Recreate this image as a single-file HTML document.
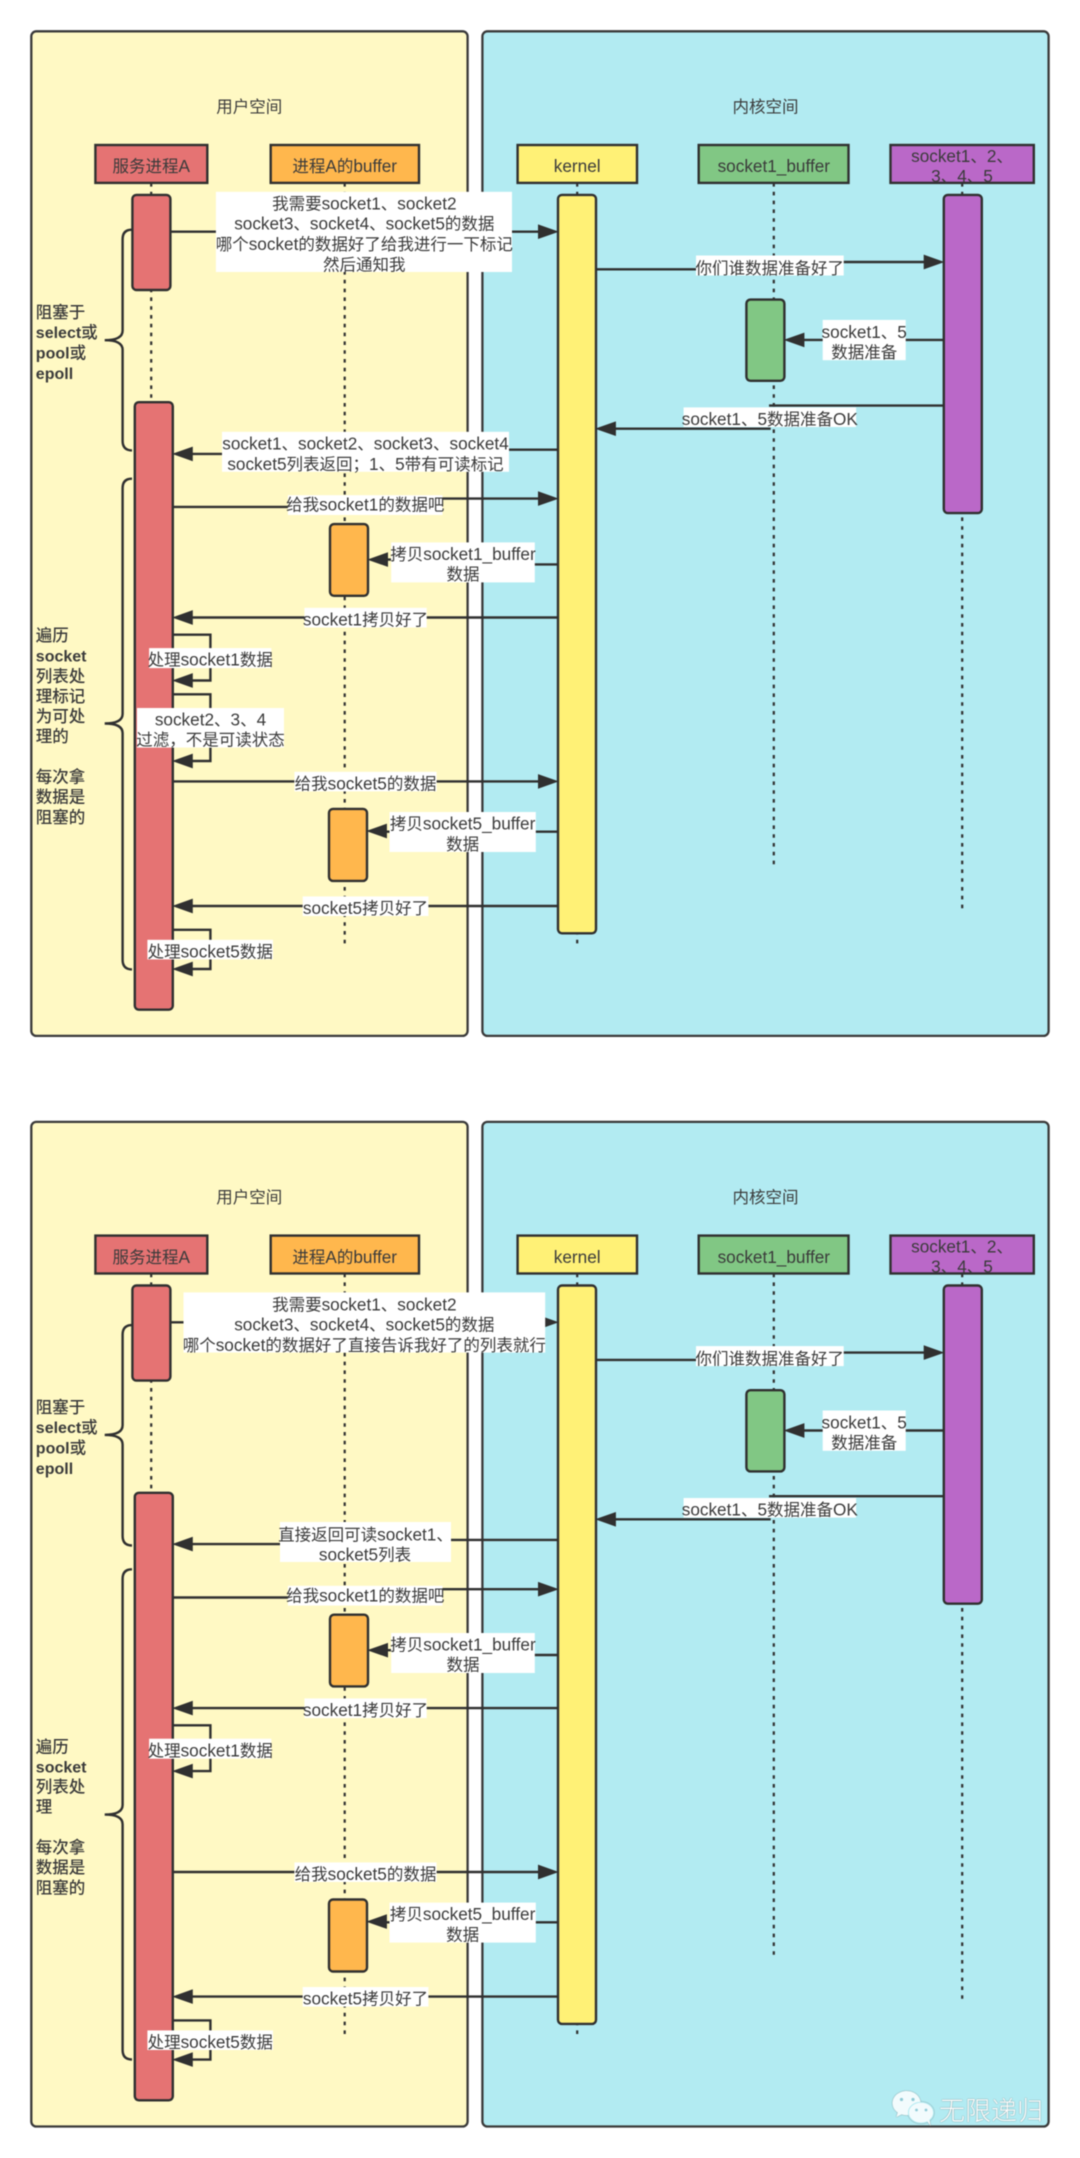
<!DOCTYPE html>
<html><head><meta charset="utf-8"><style>
html,body{margin:0;padding:0;background:#fff}
svg{display:block;filter:blur(.45px)}
text{font-family:"Liberation Sans","Noto Sans CJK SC",sans-serif;font-size:16.5px;fill:#3b3b3b}
.m{text-anchor:middle}
.l{font-size:17.2px}
.b{font-weight:500}
.b .l{font-size:16px;font-weight:700}
.p{stroke:#3a3a3a;stroke-width:2.3}
.a{stroke:#303030;stroke-width:2.4}
.d{stroke:#303030;stroke-width:2.2;stroke-dasharray:3.6 5.2;fill:none}
.ln{stroke:#303030;stroke-width:2.4;fill:none}
.h{fill:#303030;stroke:#303030;stroke-width:.6}
.w{fill:#fff}
</style></head><body>
<svg width="1080" height="2158" viewBox="0 0 1080 2158" xmlns="http://www.w3.org/2000/svg">
<rect width="1080" height="2158" fill="#fff"/>

<!-- ===== TOP DIAGRAM ===== -->
<g>
<rect class="p" x="31.3" y="31.3" width="436.3" height="1004.6" rx="5" fill="#FFF9C4"/>
<rect class="p" x="482.4" y="31.3" width="566.2" height="1004.6" rx="5" fill="#B2EBF2"/>
<text class="m" x="249.3" y="112.3">用户空间</text>
<text class="m" x="765.5" y="112.3">内核空间</text>

<path class="d" d="M151.2 183V403"/>
<path class="d" d="M344.7 183V945"/>
<path class="d" d="M577.2 183V945"/>
<path class="d" d="M773.8 183V866"/>
<path class="d" d="M962.2 183V910"/>

<path class="ln" d="M132 229.7Q122.6 229.7 122.6 239.3V330.6Q122.6 340.2 104.7 340.2Q122.6 340.2 122.6 349.8V440.8Q122.6 450.4 132 450.4"/>
<path class="ln" d="M132 478.7Q122.6 478.7 122.6 488.3V713.9Q122.6 723.5 104.7 723.5Q122.6 723.5 122.6 733.1V959.8Q122.6 969.4 132 969.4"/>

<rect class="a" x="95.4" y="145" width="111.9" height="37.9" fill="#E57373"/>
<rect class="a" x="270.7" y="145" width="148.3" height="37.9" fill="#FFB74D"/>
<rect class="a" x="517.6" y="145" width="119.4" height="37.9" fill="#FFF176"/>
<rect class="a" x="698.7" y="145" width="149.8" height="37.9" fill="#81C784"/>
<rect class="a" x="890.5" y="145" width="143.3" height="37.9" fill="#BA68C8"/>
<text class="m" x="151.2" y="172.2">服务进程<tspan class="l">A</tspan></text>
<text class="m" x="344.7" y="172.2">进程<tspan class="l">A</tspan>的<tspan class="l">buffer</tspan></text>
<text class="m" x="577.2" y="172.2"><tspan class="l">kernel</tspan></text>
<text class="m" x="773.8" y="172.2"><tspan class="l">socket1_buffer</tspan></text>
<text class="m" x="962" y="161.8"><tspan class="l">socket1</tspan>、<tspan class="l">2</tspan>、</text>
<text class="m" x="962" y="182.1"><tspan class="l">3</tspan>、<tspan class="l">4</tspan>、<tspan class="l">5</tspan></text>

<rect class="a" x="132.4" y="194.9" width="38" height="95.1" rx="4" fill="#E57373"/>
<rect class="a" x="134.8" y="402.2" width="38" height="607.5" rx="4" fill="#E57373"/>
<rect class="a" x="558" y="194.9" width="38" height="738.4" rx="4" fill="#FFF176"/>
<rect class="a" x="943.8" y="194.9" width="38" height="318.2" rx="4" fill="#BA68C8"/>
<rect class="a" x="746.4" y="299.6" width="38" height="81.2" rx="4" fill="#81C784"/>
<rect class="a" x="330" y="524.1" width="38" height="71.7" rx="4" fill="#FFB74D"/>
<rect class="a" x="329" y="808.9" width="38" height="72" rx="4" fill="#FFB74D"/>

<path class="ln" d="M170.5 231.7H540"/><polygon class="h" points="557.9,231.7 538.3,224.8 538.3,238.6"/>
<path class="ln" d="M596 269.3H696M843 262H925"/><polygon class="h" points="943.6,262 924,255.1 924,268.9"/>
<path class="ln" d="M943.6 339.9H803"/><polygon class="h" points="784.5,339.9 804.1,333 804.1,346.8"/>
<path class="ln" d="M943.6 405.6H769M770.7 428.7H614"/><polygon class="h" points="596,428.7 615.6,421.8 615.6,435.6"/>
<path class="ln" d="M557.9 449.7H505M222 453.9H190"/><polygon class="h" points="172.9,453.9 192.5,447 192.5,460.8"/>
<path class="ln" d="M172.9 506.9H290M440 498.6H540"/><polygon class="h" points="557.9,498.6 538.3,491.7 538.3,505.5"/>
<path class="ln" d="M557.9 564.4H530M391 559.6H386"/><polygon class="h" points="368.1,559.6 387.7,552.7 387.7,566.5"/>
<path class="ln" d="M557.9 617.5H190"/><polygon class="h" points="172.9,617.5 192.5,610.6 192.5,624.4"/>
<path class="ln" d="M172.9 634.7H210.4V680.5H190"/><polygon class="h" points="172.9,680.5 192.5,673.6 192.5,687.4"/>
<path class="ln" d="M172.9 694.3H210.4V761H190"/><polygon class="h" points="172.9,761 192.5,754.1 192.5,767.9"/>
<path class="ln" d="M172.9 781.4H540"/><polygon class="h" points="557.9,781.4 538.3,774.5 538.3,788.3"/>
<path class="ln" d="M557.9 831.7H385"/><polygon class="h" points="367,831 386.6,824.1 386.6,837.9"/>
<path class="ln" d="M557.9 906H190"/><polygon class="h" points="172.9,906 192.5,899.1 192.5,912.9"/>
<path class="ln" d="M172.9 929.8H210.4V969H190"/><polygon class="h" points="172.9,969 192.5,962.1 192.5,975.9"/>

<rect class="w" x="215.9" y="191.8" width="296.1" height="80.2"/>
<rect class="w" x="696" y="255.5" width="147.7" height="20"/>
<rect class="w" x="822.7" y="319.9" width="83" height="40.3"/>
<rect class="w" x="683.6" y="407.4" width="172.5" height="19.6"/>
<rect class="w" x="222" y="431.8" width="287" height="40"/>
<rect class="w" x="287.9" y="495.2" width="154.6" height="19.8"/>
<rect class="w" x="391.2" y="542.4" width="143.6" height="40"/>
<rect class="w" x="304.4" y="607.8" width="122.3" height="19.7"/>
<rect class="w" x="149.1" y="648.1" width="122.2" height="20"/>
<rect class="w" x="137" y="708" width="147" height="39.6"/>
<rect class="w" x="294.4" y="771.8" width="142.2" height="19.6"/>
<rect class="w" x="389.5" y="812" width="146.3" height="40"/>
<rect class="w" x="302.7" y="896.4" width="125.7" height="19.6"/>
<rect class="w" x="147.4" y="939.8" width="125.6" height="19.6"/>

<text class="m" x="364.3" y="209.7">我需要<tspan class="l">socket1</tspan>、<tspan class="l">socket2</tspan></text>
<text class="m" x="364.3" y="229.7"><tspan class="l">socket3</tspan>、<tspan class="l">socket4</tspan>、<tspan class="l">socket5</tspan>的数据</text>
<text class="m" x="364.3" y="250">哪个<tspan class="l">socket</tspan>的数据好了给我进行一下标记</text>
<text class="m" x="364.3" y="270.3">然后通知我</text>
<text class="m" x="769.8" y="273.8">你们谁数据准备好了</text>
<text class="m" x="864.2" y="338.1"><tspan class="l">socket1</tspan>、<tspan class="l">5</tspan></text>
<text class="m" x="864.2" y="358.1">数据准备</text>
<text class="m" x="769.8" y="424.9"><tspan class="l">socket1</tspan>、<tspan class="l">5</tspan>数据准备<tspan class="l">OK</tspan></text>
<text class="m" x="365.5" y="449.7"><tspan class="l">socket1</tspan>、<tspan class="l">socket2</tspan>、<tspan class="l">socket3</tspan>、<tspan class="l">socket4</tspan></text>
<text class="m" x="365.5" y="470"><tspan class="l">socket5</tspan>列表返回；<tspan class="l">1</tspan>、<tspan class="l">5</tspan>带有可读标记</text>
<text class="m" x="365.2" y="510.7">给我<tspan class="l">socket1</tspan>的数据吧</text>
<text class="m" x="463" y="560"><tspan>拷贝</tspan><tspan class="l">socket1_buffer</tspan></text>
<text class="m" x="463" y="579.9">数据</text>
<text class="m" x="365.5" y="625.4"><tspan class="l">socket1</tspan>拷贝好了</text>
<text class="m" x="210.2" y="665.7">处理<tspan class="l">socket1</tspan>数据</text>
<text class="m" x="210.5" y="725.6"><tspan class="l">socket2</tspan>、<tspan class="l">3</tspan>、<tspan class="l">4</tspan></text>
<text class="m" x="210.5" y="745.5">过滤，不是可读状态</text>
<text class="m" x="365.5" y="789.3">给我<tspan class="l">socket5</tspan>的数据</text>
<text class="m" x="462.6" y="829.6">拷贝<tspan class="l">socket5_buffer</tspan></text>
<text class="m" x="462.6" y="849.9">数据</text>
<text class="m" x="365.5" y="914"><tspan class="l">socket5</tspan>拷贝好了</text>
<text class="m" x="210.2" y="957.3">处理<tspan class="l">socket5</tspan>数据</text>

<g class="b">
<text x="35.8" y="317.8">阻塞于</text>
<text x="35.8" y="338.1"><tspan class="l">select</tspan>或</text>
<text x="35.8" y="358.5"><tspan class="l">pool</tspan>或</text>
<text x="35.8" y="378.8"><tspan class="l">epoll</tspan></text>
<text x="35.8" y="641.2">遍历</text>
<text x="35.8" y="661.5"><tspan class="l">socket</tspan></text>
<text x="35.8" y="681.9">列表处</text>
<text x="35.8" y="701.8">理标记</text>
<text x="35.8" y="721.8">为可处</text>
<text x="35.8" y="742.1">理的</text>
<text x="35.8" y="782.4">每次拿</text>
<text x="35.8" y="802.7">数据是</text>
<text x="35.8" y="823">阻塞的</text>
</g>
</g>

<!-- ===== BOTTOM DIAGRAM ===== -->
<g transform="translate(0,1090.6)">
<rect class="p" x="31.3" y="31.3" width="436.3" height="1004.6" rx="5" fill="#FFF9C4"/>
<rect class="p" x="482.4" y="31.3" width="566.2" height="1004.6" rx="5" fill="#B2EBF2"/>
<text class="m" x="249.3" y="112.3">用户空间</text>
<text class="m" x="765.5" y="112.3">内核空间</text>

<path class="d" d="M151.2 183V403"/>
<path class="d" d="M344.7 183V945"/>
<path class="d" d="M577.2 183V945"/>
<path class="d" d="M773.8 183V866"/>
<path class="d" d="M962.2 183V910"/>

<path class="ln" d="M132 234.5Q122.6 234.5 122.6 244.1V334.7Q122.6 344.3 104.7 344.3Q122.6 344.3 122.6 353.9V445.3Q122.6 454.9 132 454.9"/>
<path class="ln" d="M132 478.7Q122.6 478.7 122.6 488.3V714.4Q122.6 724 104.7 724Q122.6 724 122.6 733.6V959.3Q122.6 968.9 132 968.9"/>

<rect class="a" x="95.4" y="145" width="111.9" height="37.9" fill="#E57373"/>
<rect class="a" x="270.7" y="145" width="148.3" height="37.9" fill="#FFB74D"/>
<rect class="a" x="517.6" y="145" width="119.4" height="37.9" fill="#FFF176"/>
<rect class="a" x="698.7" y="145" width="149.8" height="37.9" fill="#81C784"/>
<rect class="a" x="890.5" y="145" width="143.3" height="37.9" fill="#BA68C8"/>
<text class="m" x="151.2" y="172.2">服务进程<tspan class="l">A</tspan></text>
<text class="m" x="344.7" y="172.2">进程<tspan class="l">A</tspan>的<tspan class="l">buffer</tspan></text>
<text class="m" x="577.2" y="172.2"><tspan class="l">kernel</tspan></text>
<text class="m" x="773.8" y="172.2"><tspan class="l">socket1_buffer</tspan></text>
<text class="m" x="962" y="161.8"><tspan class="l">socket1</tspan>、<tspan class="l">2</tspan>、</text>
<text class="m" x="962" y="182.1"><tspan class="l">3</tspan>、<tspan class="l">4</tspan>、<tspan class="l">5</tspan></text>

<rect class="a" x="132.4" y="194.9" width="38" height="95.1" rx="4" fill="#E57373"/>
<rect class="a" x="134.8" y="402.2" width="38" height="607.5" rx="4" fill="#E57373"/>
<rect class="a" x="558" y="194.9" width="38" height="738.4" rx="4" fill="#FFF176"/>
<rect class="a" x="943.8" y="194.9" width="38" height="318.2" rx="4" fill="#BA68C8"/>
<rect class="a" x="746.4" y="299.6" width="38" height="81.2" rx="4" fill="#81C784"/>
<rect class="a" x="330" y="524.1" width="38" height="71.7" rx="4" fill="#FFB74D"/>
<rect class="a" x="329" y="808.9" width="38" height="72" rx="4" fill="#FFB74D"/>

<path class="ln" d="M170.5 231.7H540"/><polygon class="h" points="557.9,231.7 538.3,224.8 538.3,238.6"/>
<path class="ln" d="M596 269.3H696M843 262H925"/><polygon class="h" points="943.6,262 924,255.1 924,268.9"/>
<path class="ln" d="M943.6 339.9H803"/><polygon class="h" points="784.5,339.9 804.1,333 804.1,346.8"/>
<path class="ln" d="M943.6 405.6H769M770.7 428.7H614"/><polygon class="h" points="596,428.7 615.6,421.8 615.6,435.6"/>
<path class="ln" d="M557.9 449.3H445M285 453.5H190"/><polygon class="h" points="172.9,453.5 192.5,446.6 192.5,460.4"/>
<path class="ln" d="M172.9 506.9H290M440 498.6H540"/><polygon class="h" points="557.9,498.6 538.3,491.7 538.3,505.5"/>
<path class="ln" d="M557.9 564.4H530M391 559.6H386"/><polygon class="h" points="368.1,559.6 387.7,552.7 387.7,566.5"/>
<path class="ln" d="M557.9 617.5H190"/><polygon class="h" points="172.9,617.5 192.5,610.6 192.5,624.4"/>
<path class="ln" d="M172.9 634.7H210.4V680.5H190"/><polygon class="h" points="172.9,680.5 192.5,673.6 192.5,687.4"/>
<path class="ln" d="M172.9 781.4H540"/><polygon class="h" points="557.9,781.4 538.3,774.5 538.3,788.3"/>
<path class="ln" d="M557.9 831.7H385"/><polygon class="h" points="367,831 386.6,824.1 386.6,837.9"/>
<path class="ln" d="M557.9 906H190"/><polygon class="h" points="172.9,906 192.5,899.1 192.5,912.9"/>
<path class="ln" d="M172.9 929.8H210.4V969H190"/><polygon class="h" points="172.9,969 192.5,962.1 192.5,975.9"/>

<rect class="w" x="183.5" y="201.8" width="361.7" height="60.2"/>
<rect class="w" x="696" y="255.5" width="147.7" height="20"/>
<rect class="w" x="822.7" y="319.9" width="83" height="40.3"/>
<rect class="w" x="683.6" y="407.4" width="172.5" height="19.6"/>
<rect class="w" x="280" y="431.4" width="171" height="40"/>
<rect class="w" x="287.9" y="495.2" width="154.6" height="19.8"/>
<rect class="w" x="391.2" y="542.4" width="143.6" height="40"/>
<rect class="w" x="304.4" y="607.8" width="122.3" height="19.7"/>
<rect class="w" x="149.1" y="648.1" width="122.2" height="20"/>
<rect class="w" x="294.4" y="771.8" width="142.2" height="19.6"/>
<rect class="w" x="389.5" y="812" width="146.3" height="40"/>
<rect class="w" x="302.7" y="896.4" width="125.7" height="19.6"/>
<rect class="w" x="147.4" y="939.8" width="125.6" height="19.6"/>

<text class="m" x="364.3" y="219.7">我需要<tspan class="l">socket1</tspan>、<tspan class="l">socket2</tspan></text>
<text class="m" x="364.3" y="240"><tspan class="l">socket3</tspan>、<tspan class="l">socket4</tspan>、<tspan class="l">socket5</tspan>的数据</text>
<text class="m" x="364.3" y="260.3">哪个<tspan class="l">socket</tspan>的数据好了直接告诉我好了的列表就行</text>
<text class="m" x="769.8" y="273.8">你们谁数据准备好了</text>
<text class="m" x="864.2" y="338.1"><tspan class="l">socket1</tspan>、<tspan class="l">5</tspan></text>
<text class="m" x="864.2" y="358.1">数据准备</text>
<text class="m" x="769.8" y="424.9"><tspan class="l">socket1</tspan>、<tspan class="l">5</tspan>数据准备<tspan class="l">OK</tspan></text>
<text class="m" x="365.5" y="449.7">直接返回可读<tspan class="l">socket1</tspan>、</text>
<text class="m" x="365" y="470"><tspan class="l">socket5</tspan>列表</text>
<text class="m" x="365.2" y="510.7">给我<tspan class="l">socket1</tspan>的数据吧</text>
<text class="m" x="463" y="560"><tspan>拷贝</tspan><tspan class="l">socket1_buffer</tspan></text>
<text class="m" x="463" y="579.9">数据</text>
<text class="m" x="365.5" y="625.4"><tspan class="l">socket1</tspan>拷贝好了</text>
<text class="m" x="210.2" y="665.7">处理<tspan class="l">socket1</tspan>数据</text>
<text class="m" x="365.5" y="789.3">给我<tspan class="l">socket5</tspan>的数据</text>
<text class="m" x="462.6" y="829.6">拷贝<tspan class="l">socket5_buffer</tspan></text>
<text class="m" x="462.6" y="849.9">数据</text>
<text class="m" x="365.5" y="914"><tspan class="l">socket5</tspan>拷贝好了</text>
<text class="m" x="210.2" y="957.3">处理<tspan class="l">socket5</tspan>数据</text>

<g class="b">
<text x="35.8" y="322.3">阻塞于</text>
<text x="35.8" y="342.6"><tspan class="l">select</tspan>或</text>
<text x="35.8" y="362.9"><tspan class="l">pool</tspan>或</text>
<text x="35.8" y="383.2"><tspan class="l">epoll</tspan></text>
<text x="35.8" y="661.7">遍历</text>
<text x="35.8" y="681.7"><tspan class="l">socket</tspan></text>
<text x="35.8" y="702">列表处</text>
<text x="35.8" y="721.9">理</text>
<text x="35.8" y="762.2">每次拿</text>
<text x="35.8" y="782.5">数据是</text>
<text x="35.8" y="802.9">阻塞的</text>
</g>
</g>

<!-- watermark -->
<g style="filter:drop-shadow(0.6px 0.6px 0.6px rgba(70,70,70,.7))">
<path d="M906.7 2091c-8 0-14.2 5.4-14.2 12.2 0 3.8 2 7 5.2 9.3l-1.4 4.6 5.3-2.7c1.7.5 3.4.8 5.1.8 8 0 14-5.4 14-12s-6-12.2-14-12.2z" fill="#f2fbfd"/>
<ellipse cx="921" cy="2112.6" rx="12.6" ry="10.4" fill="#f2fbfd" stroke="#B2EBF2" stroke-width="1"/>
<path d="M927 2121l3.6 5-1-6z" fill="#f2fbfd"/>
<circle cx="901.5" cy="2099.5" r="1.6" fill="#8ecad6"/>
<circle cx="913" cy="2099.5" r="1.6" fill="#8ecad6"/>
<circle cx="916.5" cy="2110" r="1.4" fill="#8ecad6"/>
<circle cx="926" cy="2110" r="1.4" fill="#8ecad6"/>
<text x="939" y="2119.8" style="font-size:26px;fill:#fff;font-weight:300">无限递归</text>
</g>
</svg>
</body></html>
